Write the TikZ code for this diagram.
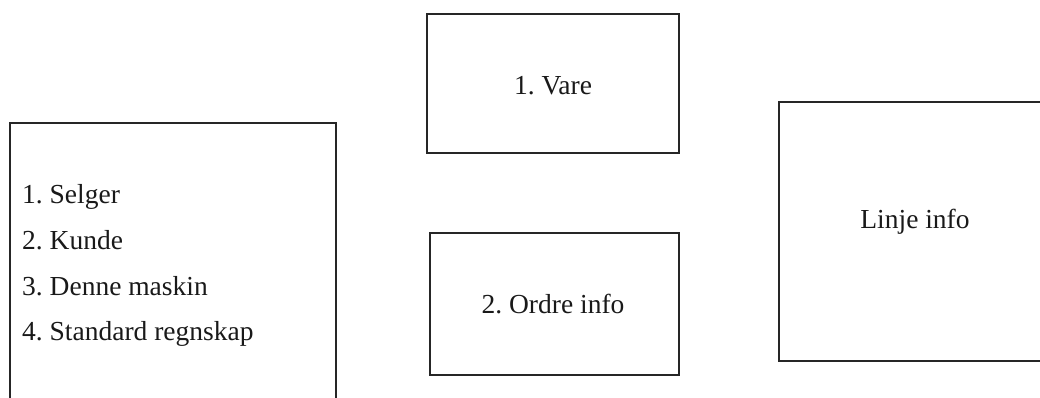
\documentclass[tikz,border=0pt]{standalone}
\usepackage{fontspec}
\setmainfont{Liberation Serif}
\begin{document}
\begin{tikzpicture}[x=1pt,y=-1pt,
  box/.style={draw=black!85,line width=1.3pt,rectangle,inner sep=0pt,outer sep=0pt,anchor=north west},
  lbl/.style={inner sep=0pt,font=\fontsize{27.5}{33}\selectfont,text=black!90}]
\useasboundingbox (0,0) rectangle (1040,398);
\clip (0,0) rectangle (1040,398);
% boxes
\node[box,minimum width=326pt,minimum height=300pt] (left) at (10,123) {};
\node[box,minimum width=252pt,minimum height=139pt] (vare) at (427,14) {};
\node[box,minimum width=249pt,minimum height=142pt] (ordre) at (430,233) {};
\node[box,minimum width=280pt,minimum height=259pt] (linje) at (779,102) {};
% texts
\node[lbl,anchor=base west] (t1) at (22,203) {1.\ Selger};
\node[lbl,anchor=base west] (t2) at (22,249) {2.\ Kunde};
\node[lbl,anchor=base west] (t3) at (22,295) {3.\ Denne maskin};
\node[lbl,anchor=base west] (t4) at (22,340) {4.\ Standard regnskap};
\node[lbl,anchor=base] (tv) at (553,95) {1.\ Vare};
\node[lbl,anchor=base] (to) at (553,313) {2.\ Ordre info};
\node[lbl,anchor=base] (tl) at (915,228) {Linje info};
\end{tikzpicture}
\end{document}
